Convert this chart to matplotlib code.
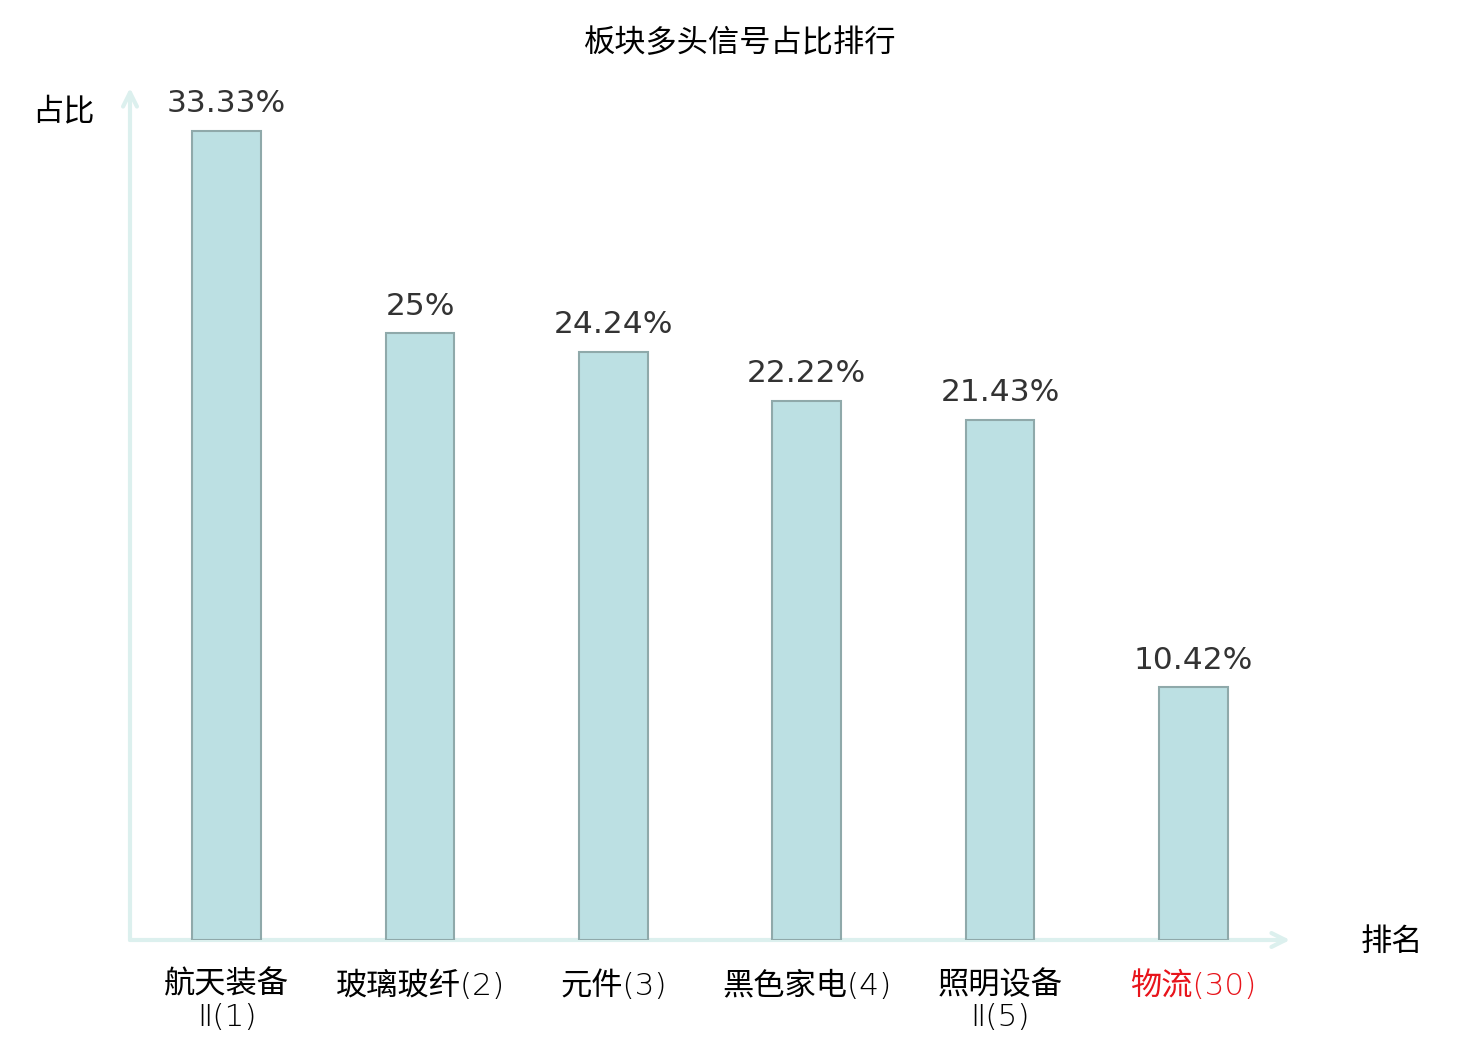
import matplotlib
matplotlib.use('Agg')
import matplotlib.pyplot as plt

plt.rcParams['font.family'] = ['Noto Sans CJK SC', 'DejaVu Sans']

# data
categories = ['航天装备\nⅡ(1)', '玻璃玻纤(2)', '元件(3)', '黑色家电(4)', '照明设备\nⅡ(5)', '物流(30)']
values = [33.33, 25, 24.24, 22.22, 21.43, 10.42]
value_labels = ['33.33%', '25%', '24.24%', '22.22%', '21.43%', '10.42%']
highlight = '物流(30)'

fig = plt.figure(figsize=(14.8, 10.4), dpi=100)
# axes box in pixels: x 130..1290, y 88..940
ax = fig.add_axes([130 / 1480, 100 / 1040, 1160 / 1480, 852 / 1040])

xs = list(range(len(values)))
ax.bar(xs, values, width=0.355, color='#bce0e3', edgecolor='#8fa9aa', linewidth=1.5, zorder=2)

for x, v, lab in zip(xs, values, value_labels):
    ax.annotate(lab, (x, v), xytext=(0, 9), textcoords='offset points',
                ha='center', va='bottom', fontsize=22.5, color='#333333',
                family=['DejaVu Sans'])

ax.set_xlim(-0.5, 5.5)
ax.set_ylim(0, 35.1)
for s in ax.spines.values():
    s.set_visible(False)
ax.set_yticks([])
ax.set_xticks(xs)
ax.set_xticklabels(categories, fontsize=22.5, linespacing=1.12,
                   family=['DejaVu Sans', 'Noto Sans CJK SC'], weight='light')
ax.tick_params(axis='x', length=0, pad=22)
for t in ax.get_xticklabels():
    t.set_va('top')
    if t.get_text() == highlight:
        t.set_color('#e8141b')

# axis arrows
axis_col = '#dcf0ee'
ax.annotate('', xy=(1.0, 0), xytext=(0, 0), xycoords='axes fraction',
            arrowprops=dict(arrowstyle='->,head_length=1.0,head_width=0.5',
                            color=axis_col, lw=3, shrinkA=0, shrinkB=0), zorder=1)
ax.annotate('', xy=(0, 1.0), xytext=(0, 0), xycoords='axes fraction',
            arrowprops=dict(arrowstyle='->,head_length=1.0,head_width=0.5',
                            color=axis_col, lw=3, shrinkA=0, shrinkB=0), zorder=1)

fig.text(63 / 1480, 1 - 111 / 1040, '占比', ha='center', va='center', fontsize=22.5, color='black')
fig.text(1392 / 1480, 1 - 942 / 1040, '排名', ha='center', va='center', fontsize=22.5, color='black')
fig.text(740 / 1480, 1 - 43 / 1040, '板块多头信号占比排行', ha='center', va='center',
         fontsize=22.5, color='black')

fig.savefig('out.png', dpi=100)
